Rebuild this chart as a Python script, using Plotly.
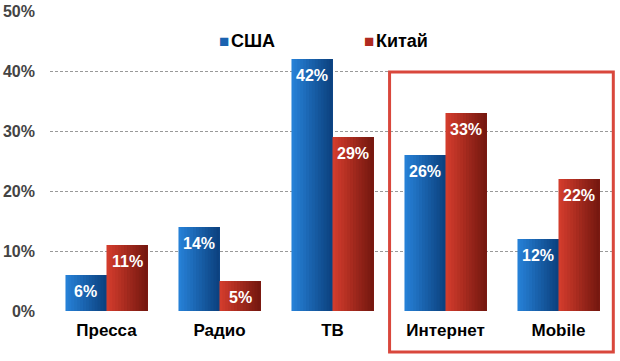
import plotly.graph_objects as go

categories = ["Пресса", "Радио", "ТВ", "Интернет", "Mobile"]
usa = [6, 14, 42, 26, 12]
china = [11, 5, 29, 33, 22]
series_names = ["США", "Китай"]
series_colors = ["#1a62b0", "#b02a20"]
tick_vals = [0, 10, 20, 30, 40, 50]
tick_text = ["0%", "10%", "20%", "30%", "40%", "50%"]

FONT = "Liberation Sans, Arial, Helvetica, sans-serif"
W, H = 620, 361
ML, MR, MT, MB = 50, 5, 11, 50
PLOT_W = W - ML - MR
BW = 0.363
N = 14

def lerp(c1, c2, t):
    return "rgb(%d,%d,%d)" % tuple(round(a + (b - a) * t) for a, b in zip(c1, c2))

blue_l, blue_r = (38, 128, 214), (12, 66, 128)
red_l, red_r = (210, 60, 44), (118, 24, 16)

fig = go.Figure()
annotations = []
half_px = BW / 2 * PLOT_W / len(categories)
for vals, off, cl, cr, sgn in [(usa, -BW, blue_l, blue_r, -1), (china, 0, red_l, red_r, 1)]:
    for i in range(N):
        t = i / (N - 1)
        fig.add_trace(go.Bar(x=categories, y=vals, width=BW - i * BW / N,
                             offset=off + i * BW / N, marker_color=lerp(cl, cr, t),
                             marker_line_width=0, showlegend=False, hoverinfo="skip"))
    for c, v in zip(categories, vals):
        annotations.append(dict(x=c, y=v, xref="x", yref="y", text=f"{v}%", showarrow=False,
                                xshift=sgn * half_px, yshift=-16, yanchor="middle",
                                font=dict(family=FONT, size=16, color="white", weight="bold")))

# legend drawn as text
legend_x = [0.296, 0.553]
for name, col, lx in zip(series_names, series_colors, legend_x):
    annotations.append(dict(x=lx, y=0.9, xref="paper", yref="paper", xanchor="left",
                            yanchor="middle", showarrow=False,
                            text=f"<span style='color:{col};font-size:17px'>■</span><span style='font-size:6px'> </span>{name}",
                            font=dict(family=FONT, size=18, color="#000", weight="bold")))

fig.update_layout(
    width=W, height=H, barmode="overlay",
    margin=dict(l=ML, r=MR, t=MT, b=MB, autoexpand=False),
    paper_bgcolor="white", plot_bgcolor="white",
    font=dict(family=FONT, color="#000"),
    showlegend=False,
    xaxis=dict(showgrid=False, showline=False, ticks="", range=[-0.5, 4.5], automargin=False,
               ticklabelstandoff=7,
               tickfont=dict(family=FONT, size=17, color="#000", weight="bold")),
    yaxis=dict(range=[0, 50], tickvals=tick_vals, ticktext=tick_text, automargin=False,
               showgrid=True, gridcolor="#999", griddash="3px,2px", gridwidth=1,
               zeroline=False, showline=False, ticks="", ticklabelstandoff=14,
               tickfont=dict(family=FONT, size=16, color="#444", weight="bold")),
    annotations=annotations,
    shapes=[dict(type="rect", xref="paper", yref="paper", x0=0.601, x1=0.997, y0=-0.137, y1=0.797,
                 line=dict(color="#d9473c", width=3), fillcolor="rgba(0,0,0,0)", layer="above")],
)
fig.write_html("out.html", config={"displayModeBar": False},
               post_script="document.body.style.margin='0';document.body.style.overflow='hidden';")
